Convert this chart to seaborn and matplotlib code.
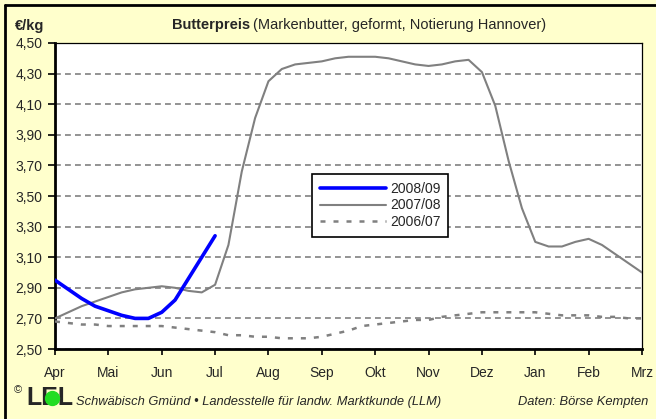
import matplotlib
matplotlib.use("Agg")
import matplotlib.pyplot as plt
from matplotlib.lines import Line2D
import seaborn as sns

# month labels (season Apr..Mrz), data sampled every quarter month
months = ["Apr", "Mai", "Jun", "Jul", "Aug", "Sep", "Okt", "Nov", "Dez", "Jan", "Feb", "Mrz"]
pos_0809 = [0, 0.25, 0.5, 0.75, 1, 1.25, 1.5, 1.75, 2, 2.25, 2.5, 2.75, 3]
price_0809 = [2.95, 2.89, 2.83, 2.78, 2.75, 2.72, 2.70, 2.70, 2.74, 2.82, 2.96, 3.10, 3.24]

pos_full = [i / 4 for i in range(45)]
price_0708 = [2.70, 2.74, 2.78, 2.81, 2.84, 2.87, 2.89, 2.90, 2.91, 2.90, 2.88, 2.87,
              2.92, 3.18, 3.66, 4.01, 4.25, 4.33, 4.36, 4.37, 4.38, 4.40, 4.41, 4.41,
              4.41, 4.40, 4.38, 4.36, 4.35, 4.36, 4.38, 4.39, 4.31, 4.09, 3.73, 3.42,
              3.20, 3.17, 3.17, 3.20, 3.22, 3.18, 3.12, 3.06, 3.00]
price_0607 = [2.68, 2.67, 2.66, 2.66, 2.65, 2.65, 2.65, 2.65, 2.65, 2.64, 2.63, 2.62,
              2.61, 2.59, 2.59, 2.58, 2.58, 2.57, 2.57, 2.57, 2.58, 2.60, 2.62, 2.65,
              2.66, 2.67, 2.68, 2.69, 2.69, 2.71, 2.72, 2.73, 2.74, 2.74, 2.74, 2.74,
              2.74, 2.73, 2.72, 2.72, 2.72, 2.71, 2.71, 2.70, 2.70]
yticks = [2.5, 2.7, 2.9, 3.1, 3.3, 3.5, 3.7, 3.9, 4.1, 4.3, 4.5]

sns.set_theme(style="white")
plt.rcParams["font.family"] = ["Liberation Sans", "DejaVu Sans"]
plt.rcParams["font.size"] = 10

W, H = 656, 419
fig = plt.figure(figsize=(W / 100, H / 100), dpi=100, facecolor="#FFFFCC")
ax = fig.add_axes([55 / W, 1 - 349 / H, 587 / W, 306 / H])
ax.set_facecolor("white")

sns.lineplot(x=pos_full, y=price_0607, ax=ax, color="#808080", linewidth=1.8,
             linestyle=(0, (2, 3.2)), label="2006/07", zorder=3)
sns.lineplot(x=pos_full, y=price_0708, ax=ax, color="#808080", linewidth=1.5,
             label="2007/08", zorder=4)
sns.lineplot(x=pos_0809, y=price_0809, ax=ax, color="#0000FF", linewidth=2.6,
             label="2008/09", zorder=5)

ax.set_xlim(0, 11)
ax.set_ylim(2.5, 4.5)
ax.set_xticks(range(len(months)))
ax.set_xticklabels(months)
ax.set_yticks(yticks)
ax.set_yticklabels([f"{v:.2f}".replace(".", ",") for v in yticks])
ax.set_xlabel("")
ax.set_ylabel("")
ax.tick_params(axis="x", direction="out", length=4, width=1.2, color="black",
               pad=8, labelsize=10, bottom=True)
ax.tick_params(axis="y", direction="out", length=5, width=1.2, color="black",
               pad=4, labelsize=10, left=True)

ax.set_axisbelow(True)
ax.yaxis.grid(True, color="#808080", linewidth=1.2, linestyle=(0, (3.5, 2.5)))
ax.xaxis.grid(False)
for side in ["left", "bottom"]:
    ax.spines[side].set_linewidth(2)
    ax.spines[side].set_color("black")
for side in ["top", "right"]:
    ax.spines[side].set_linewidth(0.9)
    ax.spines[side].set_color("black")

handles, labels = ax.get_legend_handles_labels()
leg = ax.legend(handles[::-1], labels[::-1], loc="upper left",
                bbox_to_anchor=((312 - 55) / 587, (349 - 174) / 306),
                borderaxespad=0, frameon=True, fancybox=False, framealpha=1,
                edgecolor="black", handlelength=4.8, handletextpad=0.25,
                labelspacing=0.2, borderpad=0.55, fontsize=10)
leg.get_frame().set_linewidth(1.2)

# titles
fig.text(15 / W, 1 - 26 / H, "€/kg", fontsize=10.5, weight="bold", va="center")
fig.text(250 / W, 1 - 25 / H, "Butterpreis", fontsize=10.5, weight="bold",
         ha="right", va="center")
fig.text(253 / W, 1 - 25 / H, "(Markenbutter, geformt, Notierung Hannover)",
         fontsize=10.5, ha="left", va="center")

# footer
fig.text(14 / W, 1 - 390 / H, "©", fontsize=8, va="center")
fig.text(26 / W, 1 - 398 / H, "LEL", fontsize=18, weight="bold", va="center")
fig.add_artist(Line2D([52 / W], [1 - 398 / H], transform=fig.transFigure,
                      marker="o", markersize=10, color="#22DD22", linestyle="none",
                      zorder=5))
fig.text(76 / W, 1 - 402 / H,
         "Schwäbisch Gmünd • Landesstelle für landw. Marktkunde (LLM)",
         fontsize=9.3, style="italic", va="center")
fig.text(648 / W, 1 - 402 / H, "Daten: Börse Kempten", fontsize=9.3,
         style="italic", ha="right", va="center")

# outer frame (top and left edge visible)
fig.add_artist(Line2D([5 / W, 5 / W], [0, 1 - 5 / H], transform=fig.transFigure,
                      color="black", linewidth=2))
fig.add_artist(Line2D([5 / W, 1], [1 - 5 / H, 1 - 5 / H], transform=fig.transFigure,
                      color="black", linewidth=2))

fig.savefig("out.png", dpi=100, facecolor=fig.get_facecolor())
